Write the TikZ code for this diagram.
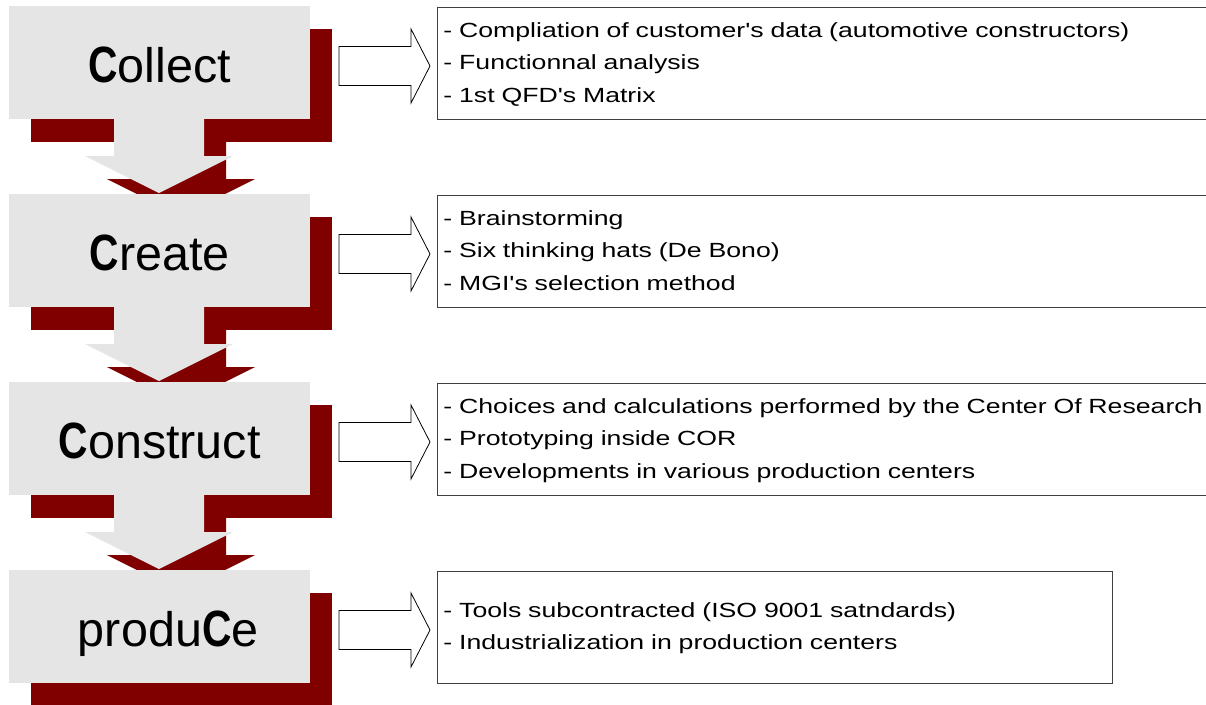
\documentclass[tikz,border=0pt]{standalone}
\usepackage{fontspec}
\newfontfamily\lsans{Liberation Sans}
\newfontfamily\lwide{Liberation Sans}[FakeStretch=1.3]
\definecolor{boxgray}{HTML}{E5E5E5}
\definecolor{shadowred}{HTML}{800000}
\newcommand{\stepC}{{\fontsize{51}{50}\selectfont\bfseries\scalebox{0.8}[1]{C}}}
\begin{document}
\begin{tikzpicture}[x=1pt,y=-1pt,
  shadowbox/.style={fill=shadowred,draw=none,inner sep=0pt,minimum width=301pt,minimum height=113pt,anchor=north west},
  stepbox/.style={fill=boxgray,draw=none,inner sep=0pt,minimum width=301pt,minimum height=113pt,anchor=north west,text height=39pt,text depth=0pt,font=\lsans\fontsize{48.5}{50}\selectfont},
  listbox/.style={draw=black!75,line width=0.9pt,fill=white,anchor=north west,inner xsep=6pt,inner ysep=0pt,minimum height=112.5pt,align=left,font=\lwide\fontsize{20.5}{32.5}\selectfont},
  flowarrow/.style={fill=boxgray,draw=none},
  flowshadow/.style={fill=shadowred,draw=none},
  sidearrow/.style={fill=white,draw=black,line width=0.8pt,line join=miter}
]
\useasboundingbox (0,0) rectangle (1206,704);
% shadows of the step boxes
\node[shadowbox] (h1) at (31,29) {};
\node[shadowbox] (h2) at (31,217) {};
\node[shadowbox] (h3) at (31,405) {};
\node[shadowbox] (h4) at (31,593) {};
% shadows of the down arrows
\foreach \B in {142,330,518}{
  \fill[flowshadow] (136,\B) -- (226,\B) -- (226,\B+37) -- (255,\B+37) -- (181,\B+74) -- (107,\B+37) -- (136,\B+37) -- cycle;
}
% down arrows
\foreach \B in {119,307,495}{
  \fill[flowarrow] (114,\B) -- (204,\B) -- (204,\B+37) -- (233,\B+37) -- (159,\B+74) -- (85,\B+37) -- (114,\B+37) -- cycle;
}
% step boxes
\node[stepbox] (s1) at (9,6) {\stepC ollect};
\node[stepbox] (s2) at (9,194) {\stepC reate};
\node[stepbox] (s3) at (9,382) {\stepC onstruct};
\node[stepbox] (s4) at (9,570) {\hspace*{17pt}produ\stepC e};
% side arrows
\foreach \C in {66,254,442,630}{
  \draw[sidearrow] (339,\C-19.5) -- (411,\C-19.5) -- (411,\C-37) -- (430,\C) -- (411,\C+37) -- (411,\C+19.5) -- (339,\C+19.5) -- cycle;
}
% list boxes
\node[listbox,text width=800pt] (l1) at (437,6.5) {\strut- Compliation of customer's data (automotive constructors)\\\strut- Functionnal analysis\\\strut- 1st QFD's Matrix};
\node[listbox,text width=800pt] (l2) at (437,194.5) {\strut- Brainstorming\\\strut- Six thinking hats (De Bono)\\\strut- MGI's selection method};
\node[listbox,text width=800pt] (l3) at (437,382.5) {\strut- Choices and calculations performed by the Center Of Research\\\strut- Prototyping inside COR\\\strut- Developments in various production centers};
\node[listbox,text width=663pt] (l4) at (437,570.5) {\strut- Tools subcontracted (ISO 9001 satndards)\\\strut- Industrialization in production centers};
\end{tikzpicture}
\end{document}
